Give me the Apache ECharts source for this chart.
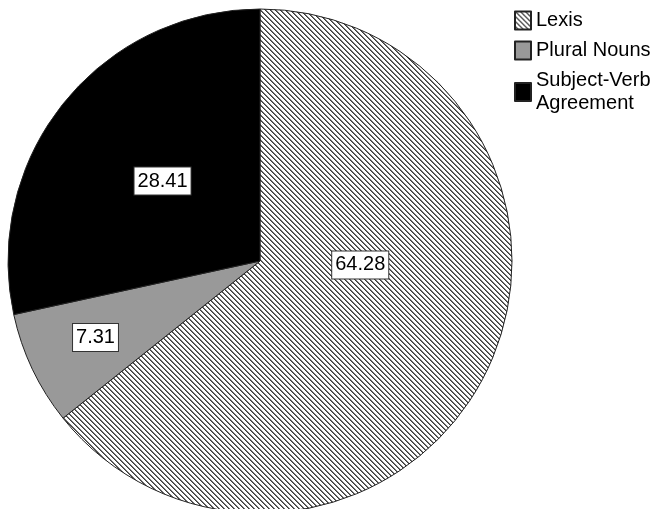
<!DOCTYPE html>
<html>
<head>
<meta charset="utf-8">
<script src="https://cdn.jsdelivr.net/npm/echarts@6/dist/echarts.min.js"></script>
<style>
html,body{margin:0;padding:0;background:#fff;}
#chart{width:663px;height:509px;}
</style>
</head>
<body>
<div id="chart"></div>
<script>
const categories = ['Lexis', 'Plural Nouns', 'Subject-Verb\nAgreement'];
const values = [64.28, 7.31, 28.41];

function hatch() {
  const n = 5;
  const c = document.createElement('canvas');
  c.width = n; c.height = n;
  const ctx = c.getContext('2d');
  const img = ctx.createImageData(n, n);
  for (let y = 0; y < n; y++) {
    for (let x = 0; x < n; x++) {
      const d = (((x - y) % n) + n) % n;
      const v = d === 0 ? 60 : (d === 1 ? 120 : 255);
      const i = (y * n + x) * 4;
      img.data[i] = v; img.data[i+1] = v; img.data[i+2] = v; img.data[i+3] = 255;
    }
  }
  ctx.putImageData(img, 0, 0);
  return c;
}

const fills = [{ image: hatch(), repeat: 'repeat' }, '#999999', '#000000'];
const labelShift = [[-16, -52], [-48, 21], [3, 1]];
const font = 'Liberation Sans, Arial, sans-serif';

const chart = echarts.init(document.getElementById('chart'), null, { renderer: 'canvas' });
chart.setOption({
  animation: false,
  backgroundColor: '#fff',
  legend: {
    orient: 'vertical',
    left: 514,
    top: 9,
    padding: 0,
    itemWidth: 16,
    itemHeight: 18,
    itemGap: 7,
    selectedMode: false,
    icon: 'rect',
    textStyle: { fontFamily: font, fontSize: 20, color: '#000', lineHeight: 23 },
    data: categories
  },
  series: [{
    type: 'pie',
    center: [260, 261],
    radius: 252,
    startAngle: 90,
    clockwise: true,
    avoidLabelOverlap: false,
    itemStyle: { borderColor: '#222', borderWidth: 1 },
    label: {
      show: true,
      position: 'inside',
      formatter: (p) => p.value.toFixed(2),
      fontFamily: font,
      fontSize: 20,
      color: '#000',
      backgroundColor: '#fff',
      borderColor: '#333',
      borderWidth: 1,
      padding: [4, 3, 3, 3]
    },
    labelLayout: (p) => ({ dx: labelShift[p.dataIndex][0], dy: labelShift[p.dataIndex][1] }),
    emphasis: { disabled: true },
    data: categories.map((c, i) => ({ name: c, value: values[i], itemStyle: { color: fills[i] } }))
  }]
});
</script>
</body>
</html>
